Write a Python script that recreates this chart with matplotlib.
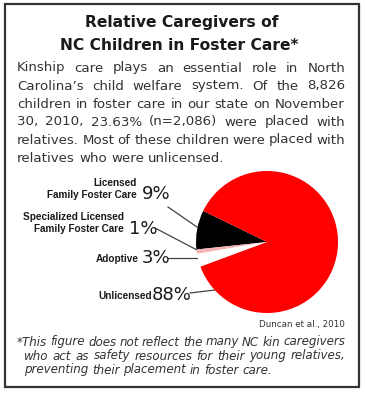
import matplotlib
matplotlib.use("Agg")
import matplotlib.pyplot as plt
from matplotlib.patches import Rectangle

# data
categories = ["Licensed\nFamily Foster Care", "Specialized Licensed\nFamily Foster Care",
              "Adoptive", "Unlicensed"]
shares = [9, 1, 3, 88]
pct_labels = ["9%", "1%", "3%", "88%"]
colors = ["#000000", "#f4b4b4", "#ffffff", "#ff0000"]

title_lines = ["Relative Caregivers of", "NC Children in Foster Care*"]
body_lines = ["Kinship care plays an essential role in North",
              "Carolina\u2019s child welfare system. Of the 8,826",
              "children in foster care in our state on November",
              "30, 2010, 23.63% (n=2,086) were placed with",
              "relatives. Most of these children were placed with",
              "relatives who were unlicensed."]
note_lines = ["*This figure does not reflect the many NC kin caregivers",
              "who act as safety resources for their young relatives,",
              "preventing their placement in foster care."]
source = "Duncan et al., 2010"

W, H = 365, 393
fig = plt.figure(figsize=(W / 100, H / 100), dpi=100)
bg = fig.add_axes([0, 0, 1, 1])
bg.set_xlim(0, W)
bg.set_ylim(H, 0)
bg.axis("off")
bg.add_patch(Rectangle((5, 4), 354, 383, fill=False, ec="#333333", lw=1.6))

renderer = fig.canvas.get_renderer()


def text_width(s, **kw):
    t = bg.text(0, 0, s, **kw)
    w = t.get_window_extent(renderer).width
    t.remove()
    return w


def fit_size(lines, spans, size, mingap, **kw):
    # largest size where each justified line keeps at least mingap between words
    while size > 5:
        ok = True
        for line, (x0, x1) in zip(lines, spans):
            words = line.split(" ")
            need = sum(text_width(w, fontsize=size, **kw) for w in words) + mingap * (len(words) - 1)
            if need > x1 - x0:
                ok = False
                break
        if ok:
            return size
        size -= 0.1
    return size


def justified(line, x0, x1, y, last=False, **kw):
    words = line.split(" ")
    arts = [bg.text(0, y, w, va="center", ha="left", **kw) for w in words]
    widths = [a.get_window_extent(renderer).width for a in arts]
    if last or len(words) < 2:
        gap = text_width("a a", **kw) - text_width("aa", **kw)
    else:
        gap = (x1 - x0 - sum(widths)) / (len(words) - 1)
    x = x0
    for a, w in zip(arts, widths):
        a.set_x(x)
        x += w + gap


# title
tkw = dict(fontfamily="DejaVu Sans", fontweight="bold", fontsize=11.2, color="#1a1a1a",
           ha="center", va="center")
bg.text(182, 22, title_lines[0], **tkw)
bg.text(179, 45, title_lines[1], **tkw)

# body
bfont = dict(fontfamily="DejaVu Sans", color="#333333")
bsize = fit_size(body_lines[:-1], [(17, 345)] * 5, 11, 3.0, **bfont)
for i, line in enumerate(body_lines):
    justified(line, 17, 345, 68 + i * 18, last=(i == len(body_lines) - 1),
              fontsize=bsize, **bfont)

# footnote
nfont = dict(fontfamily="DejaVu Sans", style="italic", color="#333333")
nsize = fit_size(note_lines[:2], [(17, 345), (24, 345)], 9, 2.5, **nfont)
justified(note_lines[0], 17, 345, 342, fontsize=nsize, **nfont)
justified(note_lines[1], 24, 345, 356, fontsize=nsize, **nfont)
justified(note_lines[2], 24, 345, 370, last=True, fontsize=nsize, **nfont)

bg.text(345, 324, source, ha="right", va="center", fontfamily="DejaVu Sans", fontsize=6.3,
        color="#333333")

# pie
cx, cy, r = 267, 242, 71
pax = fig.add_axes([(cx - r) / W, (H - cy - r) / H, 2 * r / W, 2 * r / H])
pax.pie(shares, colors=colors, startangle=154, counterclock=True,
        wedgeprops=dict(linewidth=0))
pax.set_xlim(-1, 1)
pax.set_ylim(-1, 1)
pax.set_aspect("equal")

# labels
lkw = dict(fontfamily="Liberation Sans", fontweight="bold", fontsize=7.2,
           color="#1a1a1a", ha="right", va="center", linespacing=1.35)
pkw = dict(fontfamily="DejaVu Sans", fontsize=13, color="#1a1a1a", ha="left", va="center")
label_pos = [(137, 189), (124, 223), (139, 259), (152, 296)]
pct_pos = [(142, 194), (129, 229), (142, 258), (152, 295)]
lines = [((168, 207), (197, 227)), ((155, 228), (197, 250)),
         ((168, 258), (199, 258)), ((190, 293), (215, 290))]
for cat, (lx, ly), pct, (px, py), (a, b) in zip(categories, label_pos, pct_labels, pct_pos, lines):
    bg.text(lx, ly, cat, **lkw)
    bg.text(px, py, pct, **pkw)
    bg.plot([a[0], b[0]], [a[1], b[1]], color="#444444", lw=0.9)

fig.savefig("out.png", dpi=100)
